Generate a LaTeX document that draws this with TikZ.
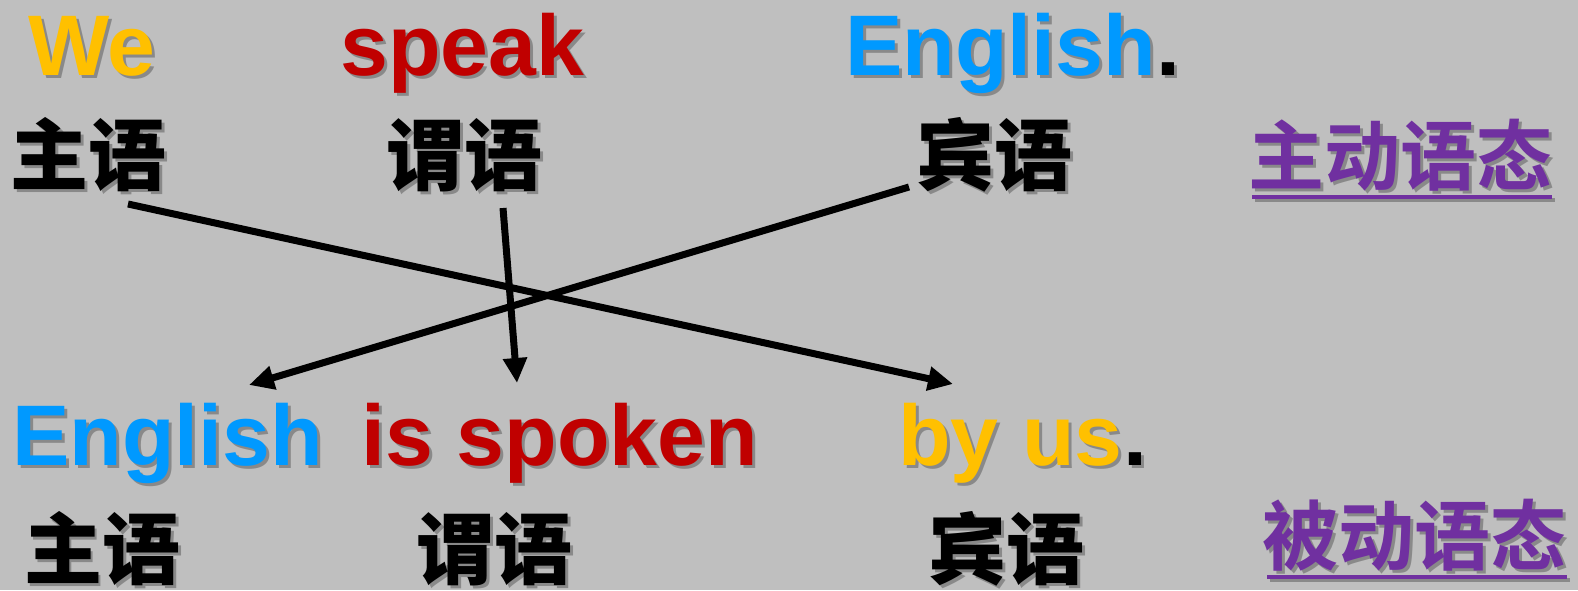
\documentclass[tikz,border=0pt]{standalone}
\usepackage{fontspec}
\setmainfont{Liberation Sans}
\newfontfamily\cjkheavy{Noto Sans CJK SC Black}
\newfontfamily\cjkbold{Noto Sans CJK SC Bold}
\usetikzlibrary{arrows.meta,calc}
\definecolor{bg}{HTML}{BFBFBF}
\definecolor{wy}{HTML}{FFC000}
\definecolor{wr}{HTML}{C00000}
\definecolor{wb}{HTML}{0099FF}
\definecolor{wp}{HTML}{7030A0}
\tikzset{
  en/.style={anchor=base west, inner sep=0pt, font=\fontsize{86}{86}\selectfont\bfseries},
  zh/.style={inner sep=0pt, font=\fontsize{78}{78}\selectfont\cjkheavy, text=black},
  zhp/.style={inner sep=0pt, font=\fontsize{76}{76}\selectfont\cjkbold, text=wp},
  shad/.style={text=black, opacity=0.28},
  conn/.style={line width=7pt, draw=black, -{Triangle[length=25pt,width=23pt]}},
  uline/.style={line width=4pt, draw=wp},
}
\newcommand\shtext[4]{%
  \node[#3, shad] at ($(#2)+(3,3)$) {#4};
  \node[#3] (#1) at (#2) {#4};}
\begin{document}
\begin{tikzpicture}[x=1pt,y=-1pt]
\fill[bg] (0,0) rectangle (1578,590);
\useasboundingbox (0,0) rectangle (1578,590);
% top sentence
\shtext{we}{28,75}{en,text=wy}{We}
\shtext{speak}{340,75}{en,text=wr}{speak}
\shtext{eng}{845,75}{en,text=wb}{English}
\shtext{dota}{eng.base east}{en,text=black}{.}
% top labels
\shtext{subA}{88,155}{zh}{主语}
\shtext{predA}{464,155}{zh}{谓语}
\shtext{objA}{994,155}{zh}{宾语}
\draw[uline, draw=black, opacity=0.28] (1255,200) -- (1555,200);
\shtext{active}{1400,155}{zhp}{主动语态}
\draw[uline] (1252,197) -- (1552,197);
% bottom sentence
\shtext{engB}{12,465}{en,text=wb}{English}
\shtext{spoken}{361,465}{en,text=wr}{is spoken}
\shtext{byus}{898,465}{en,text=wy}{by us}
\shtext{dotb}{byus.base east}{en,text=black}{.}
% bottom labels
\shtext{subB}{102,549}{zh}{主语}
\shtext{predB}{494,549}{zh}{谓语}
\shtext{objB}{1006,549}{zh}{宾语}
\draw[uline, draw=black, opacity=0.28] (1270,580) -- (1570,580);
\shtext{passive}{1414,535}{zhp}{被动语态}
\draw[uline] (1267,577) -- (1567,577);
% connectors
\coordinate (s1) at (128,204);
\coordinate (e1) at (953,384);
\coordinate (s2) at (503,208);
\coordinate (e2) at (517,383);
\coordinate (s3) at (909,187);
\coordinate (e3) at (249,385);
\draw[conn] (s1) -- (e1);
\draw[conn] (s2) -- (e2);
\draw[conn] (s3) -- (e3);
\end{tikzpicture}
\end{document}
